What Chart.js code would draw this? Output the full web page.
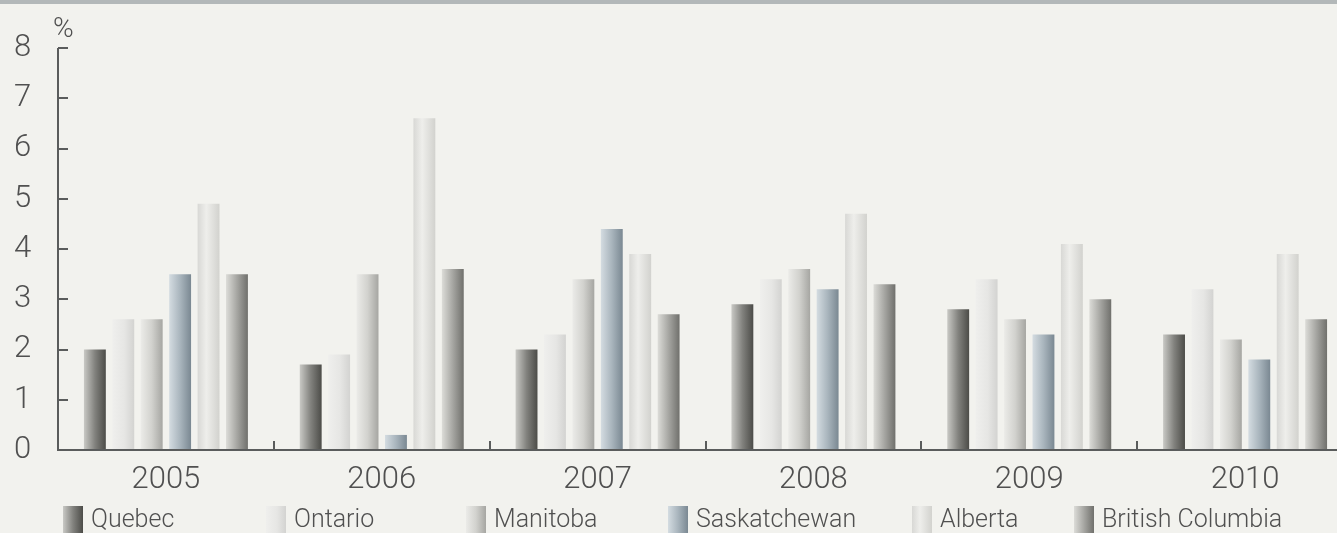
<!DOCTYPE html>
<html>
<head>
<meta charset="utf-8">
<script src="https://cdn.jsdelivr.net/npm/chart.js@4/dist/chart.umd.min.js"></script>
<style>
  html, body { margin: 0; padding: 0; background: #f2f2ee; overflow: hidden; }
  #wrap { width: 1356px; height: 533px; }
</style>
</head>
<body>
<div id="wrap"><canvas id="chart" width="1356" height="533"></canvas></div>
<script>
// Data
const years = ['2005', '2006', '2007', '2008', '2009', '2010'];
const provinces = ['Quebec', 'Ontario', 'Manitoba', 'Saskatchewan', 'Alberta', 'British Columbia'];
const quebec       = [2.0, 1.7, 2.0, 2.9, 2.8, 2.3];
const ontario      = [2.6, 1.9, 2.3, 3.4, 3.4, 3.2];
const manitoba     = [2.6, 3.5, 3.4, 3.6, 2.6, 2.2];
const saskatchewan = [3.5, 0.3, 4.4, 3.2, 2.3, 1.8];
const alberta      = [4.9, 6.6, 3.9, 4.7, 4.1, 3.9];
const bc           = [3.5, 3.6, 2.7, 3.3, 3.0, 2.6];
const yTicks = [0, 1, 2, 3, 4, 5, 6, 7, 8];

// Bar shading (left -> right)
const shades = [
    [[0, '#c9c9c5'], [0.5, '#82827e'], [1, '#4c4c48']],
    [[0, '#efefed'], [0.55, '#e6e6e4'], [1, '#d3d3d1']],
    [[0, '#ebebe8'], [0.5, '#d2d2ce'], [1, '#a6a6a2']],
    [[0, '#d4dce1'], [0.5, '#a9b5bd'], [1, '#7a8892']],
    [[0, '#d8d8d5'], [0.4, '#eeeeeb'], [1, '#d2d2ce']],
    [[0, '#dcdcd8'], [0.5, '#a6a6a2'], [1, '#70706c']]
];

const textColor = '#505050';
const axisColor = '#5a5c5c';
const fontFamily = 'Roboto, "Open Sans", sans-serif';
const legendX = [63, 266, 466, 668, 912, 1074];

const seriesValues = [quebec, ontario, manitoba, saskatchewan, alberta, bc];

function makeGradient(ctx, x0, x1, stops) {
    const g = ctx.createLinearGradient(x0, 0, x1, 0);
    stops.forEach(s => g.addColorStop(s[0], s[1]));
    return g;
}

// Background, top band, shaded bars, axes and legend
const decorPlugin = {
    id: 'decor',
    beforeDraw(chart) {
        const ctx = chart.ctx;
        ctx.save();
        ctx.fillStyle = '#f2f2ee';
        ctx.fillRect(0, 0, chart.width, chart.height);
        ctx.fillStyle = '#b3b8b9';
        ctx.fillRect(0, 0, chart.width, 4);
        ctx.restore();
    },
    beforeDatasetsDraw(chart) {
        const ctx = chart.ctx;
        chart.data.datasets.forEach((ds, i) => {
            chart.getDatasetMeta(i).data.forEach(bar => {
                const half = bar.width / 2;
                bar.options.backgroundColor = makeGradient(ctx, bar.x - half, bar.x + half, shades[i]);
            });
        });
    },
    afterDatasetsDraw(chart) {
        const ctx = chart.ctx;
        const area = chart.chartArea;
        const x = chart.scales.x;
        const y = chart.scales.y;
        ctx.save();
        ctx.strokeStyle = axisColor;
        ctx.lineWidth = 2;
        ctx.beginPath();
        // axes
        ctx.moveTo(area.left, area.top);
        ctx.lineTo(area.left, area.bottom);
        ctx.lineTo(area.right, area.bottom);
        // inward y ticks
        yTicks.forEach(v => {
            if (v === 0) return;
            const py = Math.round(y.getPixelForValue(v));
            ctx.moveTo(area.left, py);
            ctx.lineTo(area.left + 10, py);
        });
        // category separators
        for (let i = 1; i < years.length; i++) {
            const px = Math.round((x.getPixelForValue(i - 1) + x.getPixelForValue(i)) / 2);
            ctx.moveTo(px, area.bottom);
            ctx.lineTo(px, area.bottom - 9);
        }
        ctx.stroke();

        // unit label
        ctx.fillStyle = textColor;
        ctx.font = '300 28px ' + fontFamily;
        ctx.textAlign = 'left';
        ctx.textBaseline = 'alphabetic';
        ctx.fillText('%', 53, 37);

        // legend
        ctx.font = '300 25px ' + fontFamily;
        provinces.forEach((name, i) => {
            const sx = legendX[i];
            ctx.fillStyle = makeGradient(ctx, sx, sx + 20, shades[i]);
            ctx.fillRect(sx, 506, 20, 27);
            ctx.fillStyle = textColor;
            ctx.fillText(name, sx + 28, 527);
        });
        ctx.restore();
    }
};

new Chart(document.getElementById('chart'), {
    type: 'bar',
    data: {
        labels: years,
        datasets: provinces.map((name, i) => ({
            label: name,
            data: seriesValues[i],
            backgroundColor: () => '#cccccc',
            borderWidth: 0,
            categoryPercentage: 0.79,
            barPercentage: 0.77
        }))
    },
    options: {
        responsive: false,
        devicePixelRatio: 1,
        animation: false,
        layout: { padding: { top: 48, left: 14, right: 3, bottom: 0 } },
        plugins: {
            legend: { display: false },
            tooltip: { enabled: false }
        },
        scales: {
            x: {
                grid: { display: false },
                border: { display: false },
                ticks: {
                    color: textColor,
                    font: { family: fontFamily, size: 31, weight: '300' },
                    padding: 4
                },
                afterFit: s => { s.height = 83; }
            },
            y: {
                min: 0,
                max: 8,
                grid: { display: false },
                border: { display: false },
                afterBuildTicks: s => { s.ticks = yTicks.map(v => ({ value: v })); },
                ticks: {
                    color: textColor,
                    crossAlign: 'far',
                    font: { family: fontFamily, size: 31, weight: '300' },
                    padding: 0
                },
                afterFit: s => { s.width = 44; }
            }
        }
    },
    plugins: [decorPlugin]
});
</script>
</body>
</html>
